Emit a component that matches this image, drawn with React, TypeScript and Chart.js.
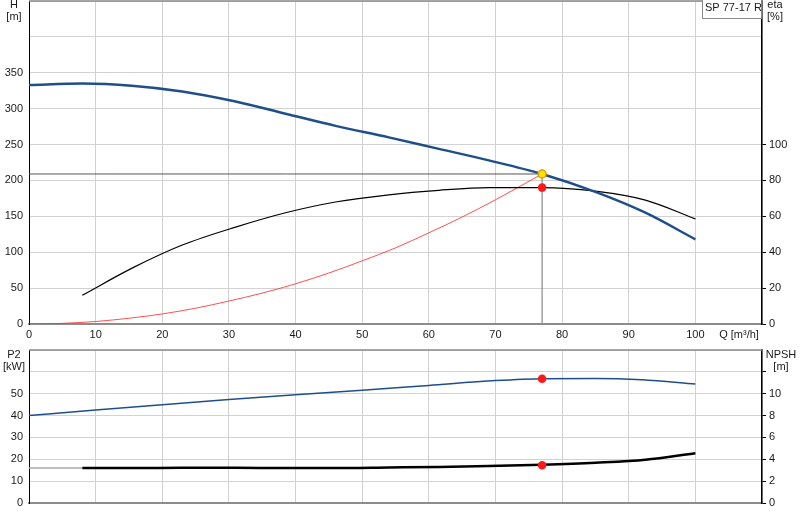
import { useEffect, useRef } from 'react';
import { Chart, registerables } from 'chart.js';

Chart.register(...registerables);

const FONT = "Arial, 'Liberation Sans', sans-serif";

// pump curve H(Q)
const flow = [0, 8, 15.4, 23, 31, 38.5, 46, 54, 61.5, 69, 77, 85, 92.5, 100];
const head = [333, 335, 332, 324, 310, 293, 276, 260, 244, 228, 209, 184, 155, 118];
// efficiency
const etaFlow = [8, 15.4, 23, 31, 38.5, 46, 54, 61.5, 69, 77, 85, 92.5, 100];
const eta = [16, 31, 44, 54, 62, 68, 72, 74.5, 76, 76, 74, 69, 58.6];
// system curve
const sysFlow = [0, 5, 10, 15, 20, 25, 30, 35, 40, 45, 50, 55, 60, 65, 70, 77];
const sysHead = [0, 0.9, 3.5, 8, 14, 22, 32, 43, 56, 71, 88, 106, 127, 149, 173, 209];
// power P2
const powerFlow = [0, 10, 20, 30, 40, 50, 60, 70, 77, 85, 92, 100];
const power = [40, 42.6, 45, 47.3, 49.5, 51.6, 53.8, 56, 56.9, 57, 56.4, 54.5];
// NPSH
const npshFlow = [8, 15.4, 23, 31, 38.5, 46, 54, 61.5, 69, 77, 85, 92.5, 100];
const npsh = [3.2, 3.2, 3.22, 3.22, 3.2, 3.2, 3.25, 3.3, 3.38, 3.5, 3.68, 3.95, 4.55];

const dutyQ = 77;
const dutyH = 209;
const dutyEta = 76;
const dutyP2 = 56.9;
const dutyNpsh = 3.45;

const pts = (xs: number[], ys: number[]) => xs.map((x, i) => ({ x, y: ys[i] }));

const GRID = '#d2d2d2';
const TICK = { color: '#1a1a1a', font: { family: FONT, size: 11 } };

const textPlugin = (items: [string, number, number][], box?: boolean) => ({
  id: 'texts',
  afterDraw(chart: any) {
    const c = chart.ctx;
    const a = chart.chartArea;
    c.save();
    c.strokeStyle = '#8a8a8a';
    c.lineWidth = 1.5;
    c.beginPath();
    c.moveTo(a.left, a.top);
    c.lineTo(a.right, a.top);
    c.stroke();
    c.font = `11px ${FONT}`;
    c.fillStyle = '#1a1a1a';
    c.textAlign = 'center';
    c.textBaseline = 'middle';
    items.forEach(([t, x, y]) => c.fillText(t, x, y));
    if (box) {
      c.fillStyle = '#fff';
      c.fillRect(702, 0, 60, 19);
      c.strokeStyle = '#888';
      c.lineWidth = 1;
      c.strokeRect(702.5, -1, 59, 19.5);
      c.fillStyle = '#1a1a1a';
      c.textAlign = 'left';
      c.fillText('SP 77-17 R', 705, 8);
    }
    c.restore();
  },
});

// no automatic padding from the tick labels: the plot area is fixed
const noPad = (s: any) => {
  s.paddingTop = 0;
  s.paddingBottom = 0;
  s.paddingLeft = 0;
  s.paddingRight = 0;
};

const xAxis = (h: number, labels: boolean) => ({
  type: 'linear' as const,
  min: 0,
  max: 110,
  afterFit: (s: any) => { s.height = h; noPad(s); },
  ticks: {
    ...TICK,
    display: labels,
    stepSize: 10,
    padding: 4,
    maxRotation: 0,
    callback: (v: any) => (v <= 100 ? v : ''),
  },
  grid: { color: GRID, drawTicks: false },
  border: { color: '#8c8c8c', width: 2 },
});

const leftAxis = (max: number, step: number, lastLabel: number) => ({
  type: 'linear' as const,
  position: 'left' as const,
  min: 0,
  max,
  afterFit: (s: any) => { s.width = 29; noPad(s); },
  ticks: {
    ...TICK,
    stepSize: step,
    padding: 6,
    callback: (v: any) => (v <= lastLabel ? v : ''),
  },
  grid: { color: GRID, drawTicks: false },
  border: { color: '#000', width: 1 },
});

const rightAxis = (max: number, step: number, lastLabel: number, lastTick: number) => ({
  type: 'linear' as const,
  position: 'right' as const,
  min: 0,
  max,
  afterFit: (s: any) => { s.width = 38; noPad(s); },
  ticks: {
    ...TICK,
    stepSize: step,
    padding: 3,
    callback: (v: any) => (v <= lastLabel ? v : ''),
  },
  grid: {
    drawOnChartArea: false,
    tickLength: 4,
    color: (ctx: any) => (ctx.tick && ctx.tick.value <= lastTick ? '#000' : 'rgba(0,0,0,0)'),
  },
  border: { color: '#000', width: 1.5 },
});

const dot = (data: { x: number; y: number }[], axis: string, fill = '#ff1a1a', stroke = '#ff1a1a', r = 3.5) => ({
  data,
  yAxisID: axis,
  showLine: false,
  pointRadius: r,
  pointBackgroundColor: fill,
  pointBorderColor: stroke,
  pointBorderWidth: 1.5,
});

const curve = (data: { x: number; y: number }[], axis: string, color: string, width: number, tension = 0.3) => ({
  data,
  yAxisID: axis,
  borderColor: color,
  borderWidth: width,
  pointRadius: 0,
  tension,
  cubicInterpolationMode: 'monotone' as const,
  fill: false,
});

export default function App() {
  const topRef = useRef<HTMLCanvasElement>(null);
  const botRef = useRef<HTMLCanvasElement>(null);

  useEffect(() => {
    const top = new Chart(topRef.current!, {
      type: 'line',
      data: {
        datasets: [
          dot([{ x: dutyQ, y: dutyH }], 'yH', '#ffe600', '#e89a00', 4),
          dot([{ x: dutyQ, y: dutyEta }], 'yEta'),
          curve(pts(flow, head), 'yH', '#1f4f8b', 2.5),
          curve(pts(etaFlow, eta), 'yEta', '#000', 1.2, 0.2),
          curve(pts(sysFlow, sysHead), 'yH', 'rgba(255,50,50,0.85)', 1),
          curve([{ x: 0, y: dutyH }, { x: dutyQ, y: dutyH }], 'yH', '#555', 1, 0),
          curve([{ x: dutyQ, y: dutyH }, { x: dutyQ, y: 0 }], 'yH', '#888', 1.2, 0),
        ],
      },
      options: {
        animation: false,
        responsive: false,
        layout: { autoPadding: false, padding: { top: 1, left: 0, right: 0, bottom: 0 } },
        plugins: { legend: { display: false }, tooltip: { enabled: false } },
        scales: {
          x: xAxis(21, true),
          yH: leftAxis(450, 50, 350),
          yEta: rightAxis(180, 20, 100, 100),
        },
      },
      plugins: [
        textPlugin(
          [
            ['H', 14, 5],
            ['[m]', 14, 17],
            ['eta', 775, 5],
            ['[%]', 775, 17],
            ['Q [m³/h]', 739, 335],
          ],
          true,
        ),
      ],
    });

    const bot = new Chart(botRef.current!, {
      type: 'line',
      data: {
        datasets: [
          dot([{ x: dutyQ, y: dutyP2 }], 'yP'),
          dot([{ x: dutyQ, y: dutyNpsh }], 'yN'),
          curve(pts(npshFlow, npsh), 'yN', '#000', 2.5),
          curve(pts(powerFlow, power), 'yP', '#1f4f8b', 1.5),
          curve([{ x: 0, y: 3.2 }, { x: 8, y: 3.2 }], 'yN', '#a8a8a8', 1.5, 0),
        ],
      },
      options: {
        animation: false,
        responsive: false,
        layout: { autoPadding: false, padding: { top: 5, left: 0, right: 0, bottom: 0 } },
        plugins: { legend: { display: false }, tooltip: { enabled: false } },
        scales: {
          x: xAxis(17, false),
          yP: leftAxis(70, 10, 50),
          yN: rightAxis(14, 2, 10, 12),
        },
      },
      plugins: [
        textPlugin([
          ['P2', 14, 10],
          ['[kW]', 14, 22],
          ['NPSH', 781, 10],
          ['[m]', 781, 22],
        ]),
      ],
    });

    return () => {
      top.destroy();
      bot.destroy();
    };
  }, []);

  return (
    <div style={{ position: 'absolute', left: 0, top: 0, width: 800, height: 520, background: '#fff' }}>
      <canvas ref={topRef} width={800} height={345} style={{ position: 'absolute', left: 0, top: 0 }} />
      <canvas ref={botRef} width={800} height={175} style={{ position: 'absolute', left: 0, top: 345 }} />
    </div>
  );
}
